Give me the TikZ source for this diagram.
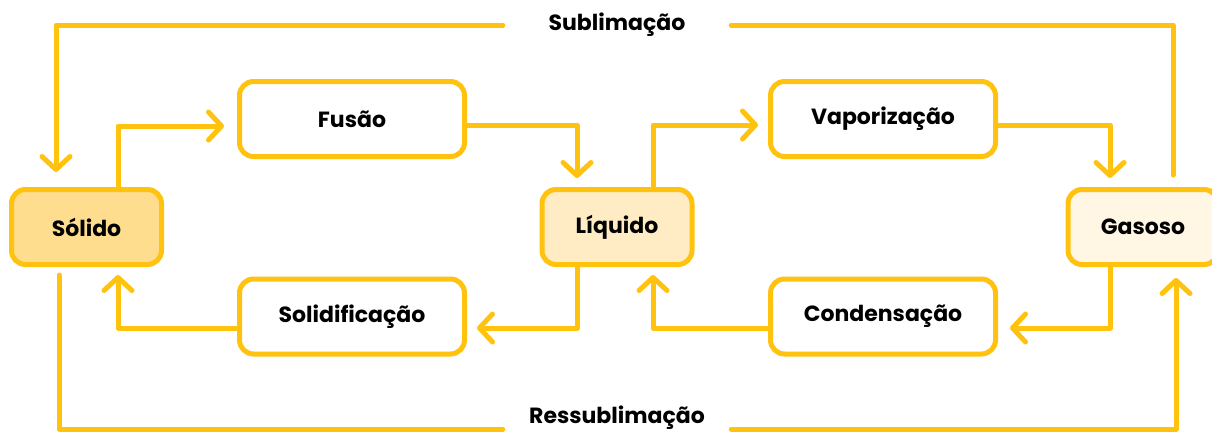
\documentclass[tikz,border=0pt]{standalone}
\usepackage{fontspec}
\setmainfont{Poppins}
\usetikzlibrary{arrows.meta}
\definecolor{stroke}{RGB}{255,194,14}
\definecolor{solfill}{RGB}{255,221,143}
\definecolor{liqfill}{RGB}{255,236,196}
\definecolor{gasfill}{RGB}{255,246,228}
\tikzset{
  box/.style={draw=stroke, line width=5pt, rounded corners=14pt, fill=white,
    minimum width=225pt, minimum height=75pt, inner sep=0pt,
    font=\fontsize{22}{26}\selectfont\bfseries},
  state/.style={box, minimum width=150pt},
  link/.style={draw=stroke, line width=5pt, line cap=round, line join=round},
  arr/.style={link, -{Straight Barb[length=13pt,width=28pt,line cap=round,line join=round]}, shorten >=10pt},
  lab/.style={inner sep=0pt, minimum width=228pt, font=\fontsize{22}{26}\selectfont\bfseries}
}
\begin{document}
\begin{tikzpicture}[x=1pt,y=-1pt]
\useasboundingbox (0,0) rectangle (1212,440);
\node[state, fill=solfill] (sol) at (86.5,227) {Sólido};
\node[state, fill=liqfill] (liq) at (617,227) {Líquido};
\node[state, fill=gasfill] (gas) at (1143,227) {Gasoso};
\node[box] (fus) at (352,119) {Fusão};
\node[box] (vap) at (883,119) {Vaporização};
\node[box] (solid) at (352,316.5) {Solidificação};
\node[box] (cond) at (883,316.5) {Condensação};
\node[lab] (subl) at (617,25) {Sublimação};
\node[lab] (ress) at (617,429) {\raisebox{6pt}[0pt][0pt]{Ressublimação}};
% upper row
\draw[arr, shorten >=13pt] ([xshift=31.5pt]sol.north) |- ([yshift=-7pt]fus.west);
\draw[arr, shorten >=9pt] ([yshift=-6pt]fus.east) -| ([xshift=-40pt]liq.north);
\draw[arr] ([xshift=36pt]liq.north) |- ([yshift=-6pt]vap.west);
\draw[arr, shorten >=9pt] ([yshift=-6pt]vap.east) -| ([xshift=-33pt]gas.north);
% lower row
\draw[arr] ([xshift=-40pt]liq.south) |- ([yshift=-11.5pt]solid.east);
\draw[arr, shorten >=8pt] ([yshift=-11.5pt]solid.west) -| ([xshift=31.5pt]sol.south);
\draw[arr, shorten >=12pt] ([xshift=-33pt]gas.south) |- ([yshift=-11.5pt]cond.east);
\draw[arr, shorten >=8pt] ([yshift=-11.5pt]cond.west) -| ([xshift=36pt]liq.south);
% sublimation
\draw[link] ([xshift=30pt,yshift=12pt]gas.north) |- (subl.east);
\draw[arr, shorten >=15pt] (subl.west) -| ([xshift=-30.5pt]sol.north);
% ressublimation
\draw[link] ([xshift=-27.5pt,yshift=-8pt]sol.south) |- (ress.west);
\draw[arr, shorten >=11pt] (ress.east) -| ([xshift=33pt]gas.south);
\end{tikzpicture}
\end{document}
